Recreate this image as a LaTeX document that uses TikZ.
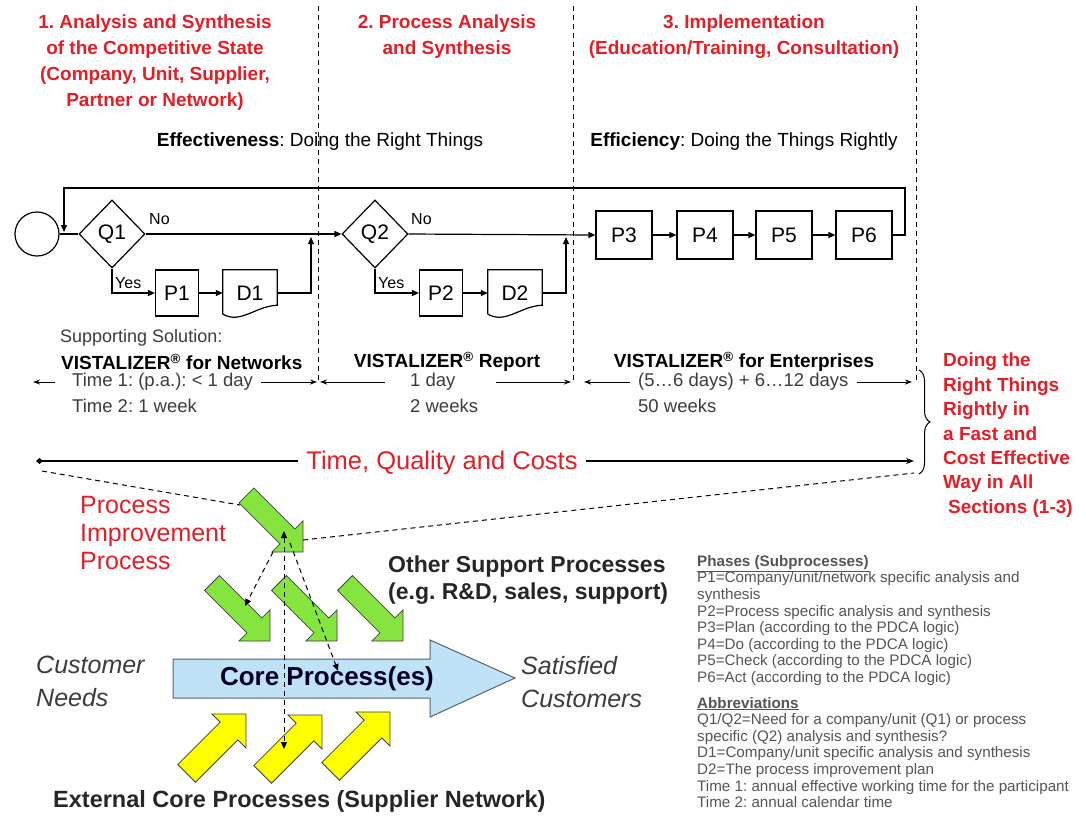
\documentclass[tikz,border=0pt]{standalone}
\usepackage{fontspec}
\setmainfont{Liberation Sans}
\frenchspacing
\usetikzlibrary{shapes.geometric,arrows.meta,calc,decorations.pathreplacing}
\definecolor{hred}{RGB}{228,30,38}
\definecolor{lgreen}{RGB}{134,228,62}
\definecolor{lyel}{RGB}{255,255,0}
\definecolor{lblue}{RGB}{192,226,246}
\definecolor{dblue}{RGB}{40,60,80}
\definecolor{txtgray}{RGB}{60,60,60}
\definecolor{legray}{RGB}{85,85,85}
\newcommand{\blkarrow}[6]{%
  \begin{scope}[shift={#1}, rotate=#2]
    \filldraw[fill=#6, draw=black!75, line width=0.8pt, line join=miter]
      (0,0) -- (-#5/2, #5/2) -- (-#5/2, #4/2) -- (-#3, #4/2) -- (-#3, -#4/2)
      -- (-#5/2, -#4/2) -- (-#5/2, -#5/2) -- cycle;
  \end{scope}}
\tikzset{
  hdr/.style={font=\bfseries\fontsize{19}{26}\selectfont, text=hred, align=center, inner sep=0pt},
  sub/.style={font=\fontsize{19}{22}\selectfont, inner sep=0pt},
  flowline/.style={line width=1.2pt},
  arr/.style={flowline, -{Triangle[length=7pt,width=6pt]}},
  procbox/.style={draw, line width=1.2pt, minimum width=43pt, minimum height=46pt, inner sep=0pt, font=\fontsize{21}{24}\selectfont},
  bigbox/.style={procbox, minimum width=56pt, minimum height=48pt},
  docbox/.style={minimum width=54pt, minimum height=46pt, inner sep=0pt, font=\fontsize{21}{24}\selectfont},
  decis/.style={diamond, draw, line width=1.2pt, minimum width=66pt, minimum height=68pt, inner sep=0pt, font=\fontsize{21}{24}\selectfont},
  small/.style={font=\fontsize{16}{18}\selectfont, inner sep=0pt},
  vist/.style={font=\bfseries\fontsize{19}{22}\selectfont, inner sep=0pt},
  timet/.style={font=\fontsize{18.5}{24}\selectfont, inner sep=0pt, align=left, text=txtgray},
  tarr/.style={line width=1pt, -{Stealth[length=7pt,width=5pt]}},
  sepline/.style={dashed, line width=1pt, dash pattern=on 5pt off 4pt},
  dsh/.style={line width=1pt, dash pattern=on 5pt off 4pt},
  dsharr/.style={dsh, -{Triangle[length=7pt,width=6pt]}},
  sidet/.style={font=\bfseries\fontsize{19}{24.4}\selectfont, text=hred, align=left, inner sep=0pt},
  ital/.style={font=\itshape\fontsize{25}{33}\selectfont, text=txtgray, align=left, inner sep=0pt},
  boldt/.style={font=\bfseries\fontsize{23}{27}\selectfont, text=black!85, align=left, inner sep=0pt},
  legend/.style={font=\fontsize{15.2}{16.6}\selectfont, text=legray, align=left, inner sep=0pt}
}
\begin{document}
\begin{tikzpicture}[x=1pt,y=-1pt]
\useasboundingbox (0,0) rectangle (1086,823);
\fill[white] (0,0) rectangle (1086,823);

% section separators
\draw[sepline] (318,6) -- (318,380);
\draw[sepline] (573,6) -- (573,380);
\draw[sepline] (916,6) -- (916,380);

% headers
\node[hdr, anchor=north] (h1) at (155,15) {1. Analysis and Synthesis\\of the Competitive State\\(Company, Unit, Supplier,\\Partner or Network)};
\node[hdr, anchor=north] (h2) at (447,15) {2. Process Analysis\\and Synthesis};
\node[hdr, anchor=north] (h3) at (744,15) {3. Implementation\\(Education/Training, Consultation)};
\node[sub] (eff) at (320,142) {\textbf{Effectiveness}: Doing the Right Things};
\node[sub] (effi) at (744,142) {\textbf{Efficiency}: Doing the Things Rightly};

% flow
\node[circle, draw, line width=1.2pt, minimum size=44pt, inner sep=0pt] (start) at (37,234) {};
\node[decis] (Q1) at (112,234) {Q1};
\node[procbox] (P1) at (177,293) {P1};
\node[docbox] (D1) at (250,293) {D1};
\node[decis] (Q2) at (375,234) {Q2};
\node[procbox] (P2) at (441,293) {P2};
\node[docbox] (D2) at (515,293) {D2};
\node[bigbox] (P3) at (624,235) {P3};
\node[bigbox] (P4) at (705,235) {P4};
\node[bigbox] (P5) at (784,235) {P5};
\node[bigbox] (P6) at (864,235) {P6};

\foreach \d in {D1,D2}{
  \draw[flowline, line join=miter] ($(\d.south west)+(0,-2)$) -- (\d.north west) -- (\d.north east) -- ($(\d.south east)+(0,-11)$)
    .. controls ($(\d.south east)+(-22,-10)$) and ($(\d.south west)+(18,8)$) .. ($(\d.south west)+(0,-2)$);
}

\coordinate (j1) at (311,234);
\coordinate (j2) at (566,234);
\coordinate (lp) at (64,234);

\draw[flowline] (start.east) -- (Q1.west);
\draw[arr] (Q1.east) -- (Q2.west);
\draw[arr] (Q2.east) -- (P3.west);
\draw[arr] (Q1.south) |- (P1.west);
\draw[arr] (Q2.south) |- (P2.west);
\draw[arr] (P1) -- (D1);
\draw[arr] (P2) -- (D2);
\draw[arr] (D1.east) -| ($(j1)+(0,3)$);
\draw[arr] (D2.east) -| ($(j2)+(0,3)$);
\draw[arr] (P3) -- (P4);
\draw[arr] (P4) -- (P5);
\draw[arr] (P5) -- (P6);
\draw[arr] (P6.east) -- (905,235) -- (905,188) -- (64,188) -- ($(lp)+(0,-2)$);

\node[small, anchor=west] (no1) at (149,219) {No};
\node[small, anchor=west] (no2) at (411,219) {No};
\node[small, anchor=west] (yes1) at (115,283) {Yes};
\node[small, anchor=west] (yes2) at (378,283) {Yes};

% supporting solutions
\node[sub, anchor=west, text=txtgray, font=\fontsize{18}{22}\selectfont] (supp) at (60,338) {Supporting Solution:};
\node[vist, anchor=west] (v1) at (61,362) {VISTALIZER\textsuperscript{®} for Networks};
\node[vist] (v2) at (447,362) {VISTALIZER\textsuperscript{®} Report};
\node[vist] (v3) at (744,362) {VISTALIZER\textsuperscript{®} for Enterprises};

% time row
\node[timet, anchor=west] (t1) at (72,382) {Time 1: (p.a.): < 1 day};
\node[timet, anchor=west] (t2) at (72,406) {Time 2: 1 week};
\node[timet, anchor=west] (t3) at (410,382) {1 day};
\node[timet, anchor=west] (t4) at (410,406) {2 weeks};
\node[timet, anchor=west] (t5) at (638,382) {(5…6 days) + 6…12 days};
\node[timet, anchor=west] (t6) at (638,406) {50 weeks};
\draw[tarr] ($(t1.west)+(-17,0)$) -- ($(t1.west)+(-39,0)$);
\draw[tarr] ($(t1.east)+(8,0)$) -- (317,382);
\draw[tarr] ($(t3.west)+(-25,0)$) -- (320,382);
\draw[tarr] ($(t3.east)+(40,0)$) -- (571,382);
\draw[tarr] ($(t5.west)+(-8,0)$) -- (584,382);
\draw[tarr] ($(t5.east)+(8,0)$) -- (912,382);

% time quality costs
\node[font=\fontsize{25.5}{28}\selectfont, text=hred, inner sep=0pt] (tqc) at (442,463) {Time, Quality and Costs};
\coordinate (tqcL) at (36,461);
\coordinate (tqcR) at (914,461);
\draw[line width=1.2pt, {Diamond[length=7pt,width=6pt]}-] (tqcL) -- ($(tqc.west)+(-8,-2)$);
\draw[line width=1.2pt, -{Stealth[length=8pt,width=6pt]}] ($(tqc.east)+(8,-2)$) -- (tqcR);

% brace and side text
\draw[line width=1pt, decorate, decoration={brace, amplitude=11pt}] (919,370) -- (919,474);
\node[sidet, anchor=north west] (side) at (943,353) {Doing the\\Right Things\\Rightly in\\a Fast and\\Cost Effective\\Way in All\\\hspace*{5pt}Sections (1-3)};

% bottom area
\node[font=\fontsize{25}{28}\selectfont, text=hred, align=left, inner sep=0pt, anchor=north west] (pip) at (80,496) {Process\\Improvement\\Process};

% core process arrow
\filldraw[fill=lblue, draw=dblue!80, line width=1pt] (173,659) -- (430,659) -- (430,640) -- (515,678) -- (430,717) -- (430,698) -- (173,698) -- cycle;
\node[font=\bfseries\fontsize{26}{28}\selectfont, text=black!85!blue, inner sep=0pt] (core) at (327,679) {Core Process(es)};

% green arrows (support processes)
\coordinate (g0) at (303,552);
\coordinate (g1) at (270,641);
\coordinate (g2) at (337,641);
\coordinate (g3) at (403,641);
\blkarrow{(g0)}{-45}{80}{21}{44}{lgreen}
\blkarrow{(g1)}{-45}{82}{21}{44}{lgreen}
\blkarrow{(g2)}{-45}{82}{21}{44}{lgreen}
\blkarrow{(g3)}{-45}{82}{21}{44}{lgreen}
% yellow arrows (external)
\coordinate (y1) at (246,714);
\coordinate (y2) at (322,715);
\coordinate (y3) at (390,712);
\blkarrow{(y1)}{45}{84}{25}{48}{lyel}
\blkarrow{(y2)}{45}{84}{25}{48}{lyel}
\blkarrow{(y3)}{45}{84}{25}{48}{lyel}

% dashed links
\coordinate (gA) at (240,505);
\coordinate (gB) at (303,540);
\coordinate (gC) at (273,552);
\coordinate (gD) at (290,543);
\coordinate (gE) at (284,531);
\coordinate (c1) at (245,606);
\coordinate (c2) at (338,671);
\coordinate (c3) at (284,749);
\draw[dsh] ($(tqcL)+(6,10)$) -- (gA);
\draw[dsh] (gB) -- ($(tqcR)+(0,12)$);
\draw[dsharr] (gC) -- (c1);
\draw[dsharr] (gD) -- (c2);
\draw[dsh, {Triangle[length=7pt,width=6pt]}-{Triangle[length=7pt,width=6pt]}] (gE) -- (c3);

\node[ital, anchor=north west] (cn) at (36,656) {Customer\\Needs};
\node[ital, anchor=north west] (sc) at (521,656) {Satisfied\\Customers};
\node[boldt, anchor=north west] (osp) at (388,556) {Other Support Processes\\(e.g. R\&D, sales, support)};
\node[boldt, anchor=west, font=\bfseries\fontsize{23.5}{27}\selectfont] (ext) at (53,801) {External Core Processes (Supplier Network)};

% legend
\node[legend, anchor=north west] (leg) at (697,555) {\underline{\textbf{Phases (Subprocesses)}}\\
P1=Company/unit/network specific analysis and\\
synthesis\\
P2=Process specific analysis and synthesis\\
P3=Plan (according to the PDCA logic)\\
P4=Do (according to the PDCA logic)\\
P5=Check (according to the PDCA logic)\\
P6=Act (according to the PDCA logic)\\[9pt]
\underline{\textbf{Abbreviations}}\\
Q1/Q2=Need for a company/unit (Q1) or process\\
specific (Q2) analysis and synthesis?\\
D1=Company/unit specific analysis and synthesis\\
D2=The process improvement plan\\
Time 1: annual effective working time for the participant\\
Time 2: annual calendar time};
\end{tikzpicture}
\end{document}
